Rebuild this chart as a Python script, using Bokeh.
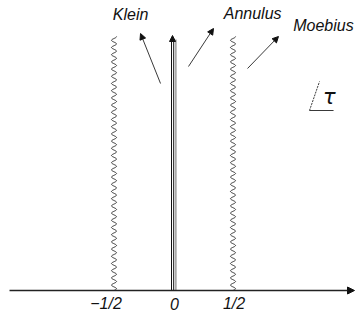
import numpy as np
from bokeh.plotting import figure
from bokeh.models import Arrow, NormalHead
from bokeh.core.properties import value
from bokeh.embed import file_html
from bokeh.resources import INLINE

# --- data ---
tick_values = [-0.5, 0.0, 0.5]
tick_labels = ["\u22121/2", "0", "1/2"]
cut_positions = [-0.5, 0.5]          # wavy branch cuts
cut_top = 254
center_top = 251
label_names = ["Klein", "Annulus", "Moebius"]
label_x = [-0.36, 0.665, 1.26]
label_y = [276, 277, 265]
arrow_x0 = [-0.109, 0.126, 0.622]
arrow_y0 = [207, 224, 222]
arrow_x1 = [-0.277, 0.336, 0.882]
arrow_y1 = [257, 262, 254]

PX = 1.0 / 119.0  # one pixel in x data units

p = figure(width=358, height=318, output_backend="svg", toolbar_location=None,
           x_range=(-1.4538, 1.5546), y_range=(-28, 290), min_border=0)
p.axis.visible = False
p.grid.visible = False
p.outline_line_color = None
p.background_fill_color = "white"

font = value("Liberation Sans")

# horizontal axis with arrow
p.add_layout(Arrow(end=NormalHead(size=7, fill_color="#111", line_color="#111"),
                   x_start=-1.378, y_start=0, x_end=1.521, y_end=0,
                   line_color="#222", line_width=1.3))

# wavy cuts
ys = np.linspace(0, cut_top, 800)
for c in cut_positions:
    xs = c + 2.5 * PX * np.sin(2 * np.pi * ys / 7.2)
    p.line(xs, ys, line_color="#333", line_width=1.0)

# central double line
p.segment(x0=[-2 * PX, 0.2 * PX], y0=[0, 0], x1=[-2 * PX, 0.2 * PX], y1=[center_top, center_top],
          line_color="#111", line_width=1.0)
p.segment(x0=[2.3 * PX], y0=[0], x1=[2.3 * PX], y1=[center_top], line_color="#aaaaaa", line_width=1.8)
p.add_layout(Arrow(end=NormalHead(size=6, fill_color="#111", line_color="#111"),
                   x_start=-1 * PX, y_start=center_top - 2, x_end=-1 * PX, y_end=center_top + 4,
                   line_color="#111", line_width=1.0, line_alpha=0))

# labels and pointing arrows
p.text(x=label_x, y=label_y, text=label_names, text_font=font, text_font_style="italic",
       text_font_size="16px", text_align="center", text_baseline="middle", text_color="#111")
for x0, y0, x1, y1 in zip(arrow_x0, arrow_y0, arrow_x1, arrow_y1):
    p.add_layout(Arrow(end=NormalHead(size=6, fill_color="#111", line_color="#111"),
                       x_start=x0, y_start=y0, x_end=x1, y_end=y1,
                       line_color="#222", line_width=0.9))

# tick labels
p.text(x=tick_values, y=[-13] * 3, text=tick_labels, text_font=font, text_font_style="italic",
       text_font_size="16px", text_align="center", text_baseline="middle", text_color="#111",
       x_offset=[-8, 1, 1])

# tau symbol
p.line([1.143, 1.227], [180, 209], line_color="#222", line_width=0.9, line_dash="2 1")
p.line([1.143, 1.345], [180, 180], line_color="#222", line_width=0.9)
p.text(x=[1.31], y=[194], text=["\u03c4"], text_font=value("DejaVu Sans"), text_font_style="italic",
       text_font_size="21px", text_align="center", text_baseline="middle", text_color="#111")

open("out.html", "w").write(file_html(p, INLINE))
